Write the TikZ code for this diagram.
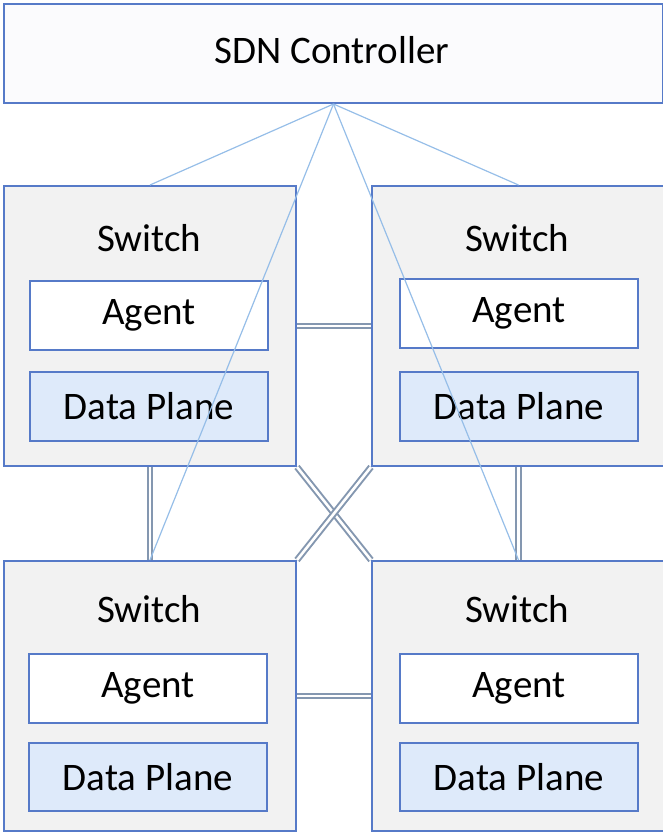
\documentclass[tikz,border=0pt]{standalone}
\usepackage{fontspec}
\setmainfont{Carlito}
\usetikzlibrary{backgrounds}
\definecolor{bord}{RGB}{86,122,200}
\definecolor{ctrlfill}{RGB}{251,251,253}
\definecolor{swfill}{RGB}{242,242,242}
\definecolor{dpfill}{RGB}{222,234,250}
\definecolor{ctlline}{RGB}{150,190,232}
\definecolor{linkcol}{RGB}{132,151,176}
\tikzset{
  box/.style={draw=bord, line width=2pt, anchor=north west, inner sep=0pt},
  ctrlbox/.style={box, fill=ctrlfill, minimum width=659pt, minimum height=99pt},
  swbox/.style={box, fill=swfill, minimum width=292pt, minimum height=280pt},
  agentbox/.style={box, fill=white, minimum width=238pt, minimum height=69pt},
  dpbox/.style={box, fill=dpfill, minimum width=238pt, minimum height=69pt},
  lbl/.style={inner sep=0pt, font=\fontsize{39}{47}\selectfont},
  ctlwire/.style={draw=ctlline, line width=1.2pt},
  linkwire/.style={draw=linkcol, line width=2pt, double=white, double distance=2.6pt}
}
\begin{document}
\begin{tikzpicture}[x=1pt,y=-1pt]
\useasboundingbox (0,0) rectangle (663,833);
% controller
\node[ctrlbox] (ctrl) at (3,3) {};
\node[lbl] (ctrltxt) at (332,50) {SDN Controller};
% switches
\node[swbox] (sw1) at (3,185) {};
\node[swbox, minimum width=293pt] (sw2) at (371,185) {};
\node[swbox, minimum height=270pt] (sw3) at (3,560) {};
\node[swbox, minimum width=293pt, minimum height=270pt] (sw4) at (371,560) {};
% switch titles
\node[lbl] (t1) at (149,238) {Switch};
\node[lbl] (t2) at (517,238) {Switch};
\node[lbl] (t3) at (149,609) {Switch};
\node[lbl] (t4) at (517,609) {Switch};
% agents
\node[agentbox] (a1) at (29,280) {};
\node[agentbox] (a2) at (399,278) {};
\node[agentbox] (a3) at (28,653) {};
\node[agentbox] (a4) at (399,653) {};
\node[lbl] at (a1.center) {Agent};
\node[lbl] at (a2.center) {Agent};
\node[lbl] at (a3.center) {Agent};
\node[lbl] at (a4.center) {Agent};
% data planes
\node[dpbox] (d1) at (29,371) {};
\node[dpbox] (d2) at (399,371) {};
\node[dpbox, minimum height=68pt] (d3) at (28,742) {};
\node[dpbox, minimum height=68pt] (d4) at (399,742) {};
\node[lbl] at (d1.center) {Data Plane};
\node[lbl] at (d2.center) {Data Plane};
\node[lbl] at (d3.center) {Data Plane};
\node[lbl] at (d4.center) {Data Plane};
% links between switches
\begin{scope}[on background layer]
\draw[linkwire] (sw1.east) -- (sw2.west);
\draw[linkwire] (sw3.east) -- (sw4.west);
\draw[linkwire] (sw1.south) -- (sw3.north);
\draw[linkwire] (sw2.south) -- (sw4.north);
\draw[linkwire] (sw1.south east) -- (sw4.north west);
\draw[linkwire] (sw2.south west) -- (sw3.north east);
\end{scope}
% control channels
\draw[ctlwire] (ctrl.south) -- (sw1.north);
\draw[ctlwire] (ctrl.south) -- (sw2.north);
\draw[ctlwire] (ctrl.south) -- (sw3.north);
\draw[ctlwire] (ctrl.south) -- (sw4.north);
\end{tikzpicture}
\end{document}
